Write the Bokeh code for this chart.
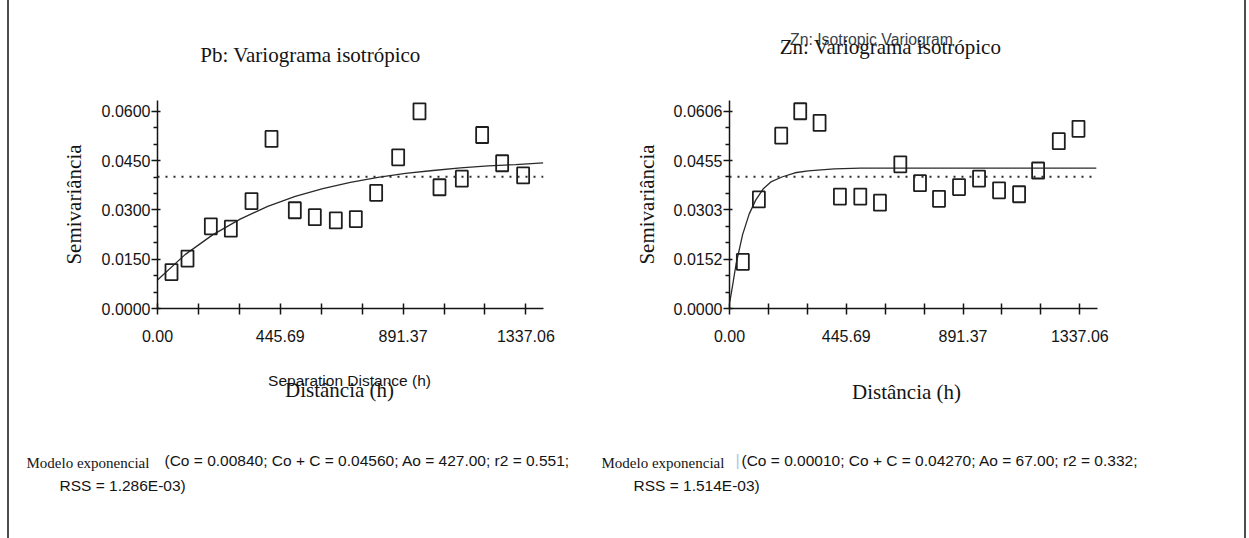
from bokeh.plotting import figure
from bokeh.models import Label, Span, FixedTicker, Spacer, Range1d
from bokeh.layouts import row, column
from bokeh.embed import file_html
from bokeh.resources import INLINE

# ---------------- data ----------------
pb_lag = [50.8, 108.9, 193.6, 266.2, 341.2, 413.8, 498.4, 571.0, 647.2, 719.8,
          793.6, 873.5, 950.9, 1023.5, 1104.6, 1178.3, 1250.9, 1327.1]
pb_gamma = [0.0111, 0.0152, 0.0250, 0.0243, 0.0327, 0.0516, 0.0299, 0.0278, 0.0268, 0.0272,
            0.0352, 0.0460, 0.0600, 0.0369, 0.0395, 0.0528, 0.0442, 0.0405]
pb_model_h = [0, 100, 200, 300, 400, 500, 600, 700, 800, 900, 1000, 1100, 1200, 1300, 1400]
pb_model_g = [0.0087, 0.0164, 0.0224, 0.0272, 0.0311, 0.0341, 0.0365, 0.0384, 0.0399, 0.0411,
              0.0420, 0.0428, 0.0434, 0.0438, 0.0443]
pb_variance = 0.0401

zn_lag = [50.9, 112.1, 197.4, 270.0, 343.8, 421.5, 499.2, 574.3, 652.0, 727.1,
          799.7, 876.1, 952.5, 1028.9, 1105.3, 1177.9, 1256.9, 1332.0]
zn_gamma = [0.0143, 0.0335, 0.0531, 0.0606, 0.0570, 0.0344, 0.0344, 0.0325, 0.0443, 0.0385,
            0.0337, 0.0373, 0.0399, 0.0363, 0.0351, 0.0424, 0.0514, 0.0552]
zn_model_h = [0, 10, 25, 50, 75, 100, 130, 160, 200, 250, 300, 400, 500, 1400]
zn_model_g = [0.0015, 0.0062, 0.0136, 0.0227, 0.0290, 0.0333, 0.0369, 0.0390, 0.0404, 0.0417,
              0.0423, 0.0429, 0.0431, 0.0431]
zn_variance = 0.0405

x_ticks = [0.0, 445.69, 891.37, 1337.06]
x_tick_labels = ["0.00", "445.69", "891.37", "1337.06"]
x_minor_ticks = [148.56, 297.13, 594.25, 742.81, 1039.93, 1188.50]

pb_y_ticks = [0.0, 0.015, 0.030, 0.045, 0.060]
pb_y_labels = ["0.0000", "0.0150", "0.0300", "0.0450", "0.0600"]
pb_y_minor = [0.005, 0.010, 0.020, 0.025, 0.035, 0.040, 0.050, 0.055]

zn_y_ticks = [0.0, 0.01515, 0.0303, 0.04545, 0.0606]
zn_y_labels = ["0.0000", "0.0152", "0.0303", "0.0455", "0.0606"]
zn_y_minor = [0.00505, 0.0101, 0.0202, 0.02525, 0.03535, 0.0404, 0.0505, 0.05555]

pb_title = "Pb: Variograma isotrópico"
zn_title = "Zn: Variograma isotrópico"
zn_title_en = "Zn: Isotropic Variogram"
y_label = "Semivariância"
x_label = "Distância (h)"
x_label_en = "Separation Distance (h)"
model_name = "Modelo exponencial"
pb_params = ["(Co = 0.00840; Co + C = 0.04560; Ao = 427.00; r2 = 0.551;", "RSS = 1.286E-03)"]
zn_params = ["(Co = 0.00010; Co + C = 0.04270; Ao = 67.00; r2 = 0.332;", "RSS = 1.514E-03)"]

SERIF = "'Liberation Serif', 'Times New Roman', serif"
SANS = "'Liberation Sans', Arial, sans-serif"
INK = "#141414"

# ---------------- page geometry (pixels) ----------------
X0, X1 = 9, 1244          # content between the two vertical rules
TOP_H = 90                # text strip above the charts
CHART_H = 270             # chart strip: page y 90 .. 360
CHART_TOP = 10            # frame top at page y 100
FRAME_H = 208             # frame bottom at page y 308
BOT_H = 538 - TOP_H - CHART_H


def make_panel(width, border_left, frame_w, x_end, y_end, y_ticks, y_labels, y_minor,
               lag, gamma, mh, mg, variance, ylab_standoff):
    p = figure(width=width, height=CHART_H, output_backend="svg", toolbar_location=None,
               title_location=None,
               x_range=Range1d(0, x_end), y_range=Range1d(0, y_end),
               min_border_left=border_left, min_border_right=width - border_left - frame_w,
               min_border_top=CHART_TOP, min_border_bottom=CHART_H - CHART_TOP - FRAME_H,
               background_fill_color="white", border_fill_color="white")
    p.outline_line_color = None
    p.grid.visible = False

    xa = p.xaxis[0]
    xa.ticker = FixedTicker(ticks=x_ticks, minor_ticks=x_minor_ticks)
    xa.major_label_overrides = {t: l for t, l in zip(x_ticks, x_tick_labels)}
    xa.major_tick_in = 5
    xa.major_tick_out = 6
    xa.minor_tick_in = 5
    xa.minor_tick_out = 6
    xa.major_label_standoff = 15

    ya = p.yaxis[0]
    ya.ticker = FixedTicker(ticks=y_ticks, minor_ticks=y_minor)
    ya.major_label_overrides = {t: l for t, l in zip(y_ticks, y_labels)}
    ya.major_tick_in = 3
    ya.major_tick_out = 6
    ya.minor_tick_in = 0
    ya.minor_tick_out = 4
    ya.major_label_standoff = 1
    ya.axis_label = y_label
    ya.axis_label_text_font = SERIF
    ya.axis_label_text_font_size = "21px"
    ya.axis_label_text_font_style = "normal"
    ya.axis_label_text_color = INK
    ya.axis_label_standoff = ylab_standoff

    for ax in (xa, ya):
        ax.axis_line_color = INK
        ax.axis_line_width = 1.5
        ax.major_tick_line_color = INK
        ax.major_tick_line_width = 1.5
        ax.minor_tick_line_color = INK
        ax.minor_tick_line_width = 1.5
        ax.major_label_text_font = SANS
        ax.major_label_text_font_size = "16px"
        ax.major_label_text_color = INK

    p.add_layout(Span(location=variance, dimension="width", line_color="#2a2a2a",
                      line_width=2, line_dash="2 6"))
    p.line(mh, mg, line_color="#2a2a2a", line_width=1.3)
    p.rect(lag, gamma, width=12, height=16, width_units="screen", height_units="screen",
           fill_color=None, line_color="#1e1e1e", line_width=1.8)
    return p


def text_strip(height, y_top):
    # a frame-only canvas whose data units are page pixels
    p = figure(width=X1 - X0, height=height, output_backend="svg", toolbar_location=None,
               title_location=None, x_axis_location=None, y_axis_location=None,
               x_range=Range1d(X0, X1), y_range=Range1d(y_top + height, y_top),
               min_border=0, background_fill_color="white", border_fill_color="white")
    p.outline_line_color = None
    p.grid.visible = False
    return p


def add_text(p, px, py, text, font, size, color=INK, align="center", baseline="middle"):
    p.add_layout(Label(x=px, y=py, text=text, text_font=font, text_font_size=size,
                       text_color=color, text_align=align, text_baseline=baseline))


top = text_strip(TOP_H, 0)
add_text(top, 310, 54, pb_title, SERIF, "21px")
add_text(top, 871, 39, zn_title_en, SANS, "15.8px", color="#3a3f4a")
add_text(top, 890, 46, zn_title, SERIF, "21px")

left = make_panel(581, 148, 386, 1401, 0.0633, pb_y_ticks, pb_y_labels, pb_y_minor,
                  pb_lag, pb_gamma, pb_model_h, pb_model_g, pb_variance, 13)
right = make_panel(654, 139, 368, 1404.6, 0.0639, zn_y_ticks, zn_y_labels, zn_y_minor,
                   zn_lag, zn_gamma, zn_model_h, zn_model_g, zn_variance, 12)

bottom = text_strip(BOT_H, TOP_H + CHART_H)
add_text(bottom, 349, 380, x_label_en, SANS, "15.5px")
add_text(bottom, 339, 389, x_label, SERIF, "21px")
add_text(bottom, 906, 391, x_label, SERIF, "21px")
add_text(bottom, 26, 462, model_name, SERIF, "15px", align="left")
add_text(bottom, 164, 460, pb_params[0], SANS, "15.5px", align="left")
add_text(bottom, 59, 485, pb_params[1], SANS, "15.5px", align="left")
add_text(bottom, 601, 462, model_name, SERIF, "15px", align="left")
add_text(bottom, 735, 460, "|", SANS, "16px", color="#a9c9e8", align="left")
add_text(bottom, 741, 460, zn_params[0], SANS, "15.5px", align="left")
add_text(bottom, 633, 485, zn_params[1], SANS, "15.5px", align="left")

gap = Spacer(width=7, height=538)
edge_l = Spacer(width=2, height=538, styles={"background-color": "#4d4d4d"})
edge_r = Spacer(width=2, height=538, styles={"background-color": "#4d4d4d"})

page = row(gap, edge_l, column(top, row(left, right), bottom), edge_r)
open("out.html", "w").write(file_html(page, INLINE))
